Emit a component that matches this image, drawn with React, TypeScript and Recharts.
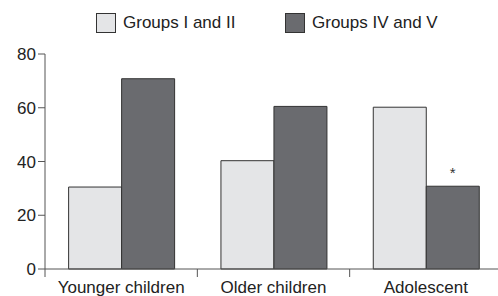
import { BarChart, Bar, XAxis, YAxis } from "recharts";

const categories = ["Younger children", "Older children", "Adolescent"];
const groupsIandII = [30.5, 40.3, 60.2];
const groupsIVandV = [70.8, 60.5, 30.8];
const yTicks = [0, 20, 40, 60, 80];
const seriesNames = ["Groups I and II", "Groups IV and V"];
// index of the category with a significance marker on the dark series
const starredIndex = 2;

const LIGHT = "#e4e5e7";
const DARK = "#6a6b6f";
const EDGE = "#333333";
const AXIS = "#555555";
const FONT = "'Liberation Sans', Arial, sans-serif";

const data = categories.map((name, i) => ({
  name,
  low: groupsIandII[i],
  high: groupsIVandV[i],
}));

const CHART_W = 504;
const CHART_H = 296;
const LEFT = 45;
const RIGHT = 2;
const BAND = (CHART_W - LEFT - RIGHT) / categories.length;

function CategoryTick(props: any) {
  const { x, y, payload } = props;
  const left = x - BAND / 2;
  return (
    <g>
      <line x1={left} y1={y - 8} x2={left} y2={y} stroke={AXIS} strokeWidth={1} />
      <text
        x={x}
        y={y + 16}
        textAnchor="middle"
        fill="#222"
        fontSize={17}
        fontFamily={FONT}
      >
        {payload.value}
      </text>
    </g>
  );
}

function StarLabel(props: any) {
  const { x, y, width, index } = props;
  if (index !== starredIndex) return null;
  return (
    <text
      x={x + width / 2}
      y={y - 8}
      textAnchor="middle"
      fill="#333"
      fontSize={15}
      fontFamily={FONT}
    >
      *
    </text>
  );
}

function LegendBox({ color, label, left }: { color: string; label: string; left: number }) {
  return (
    <div
      style={{
        position: "absolute",
        left,
        top: 13,
        display: "flex",
        alignItems: "center",
        fontFamily: FONT,
        fontSize: 17,
        color: "#222",
      }}
    >
      <span
        style={{
          display: "inline-block",
          width: 18,
          height: 18,
          background: color,
          border: `1px solid ${EDGE}`,
          marginRight: 7,
        }}
      />
      {label}
    </div>
  );
}

export default function App() {
  return (
    <div
      style={{
        position: "absolute",
        left: 0,
        top: 0,
        width: 498,
        height: 296,
        overflow: "hidden",
        background: "#fff",
      }}
    >
      <LegendBox color={LIGHT} label={seriesNames[0]} left={96} />
      <LegendBox color={DARK} label={seriesNames[1]} left={285} />
      <BarChart
        width={CHART_W}
        height={CHART_H}
        data={data}
        margin={{ top: 54, right: RIGHT, bottom: 0, left: 0 }}
        barCategoryGap="15.5%"
        barGap={0}
      >
        <XAxis
          dataKey="name"
          stroke={AXIS}
          tickLine={false}
          tick={<CategoryTick />}
          height={27}
          interval={0}
        />
        <YAxis
          domain={[0, 80]}
          ticks={yTicks}
          width={LEFT}
          stroke={AXIS}
          tickSize={7}
          tick={{ fill: "#222", fontSize: 17, fontFamily: FONT }}
        />
        <Bar
          dataKey="low"
          name={seriesNames[0]}
          fill={LIGHT}
          stroke={EDGE}
          strokeWidth={1}
          isAnimationActive={false}
        />
        <Bar
          dataKey="high"
          name={seriesNames[1]}
          fill={DARK}
          stroke={EDGE}
          strokeWidth={1}
          isAnimationActive={false}
          label={<StarLabel />}
        />
      </BarChart>
    </div>
  );
}
